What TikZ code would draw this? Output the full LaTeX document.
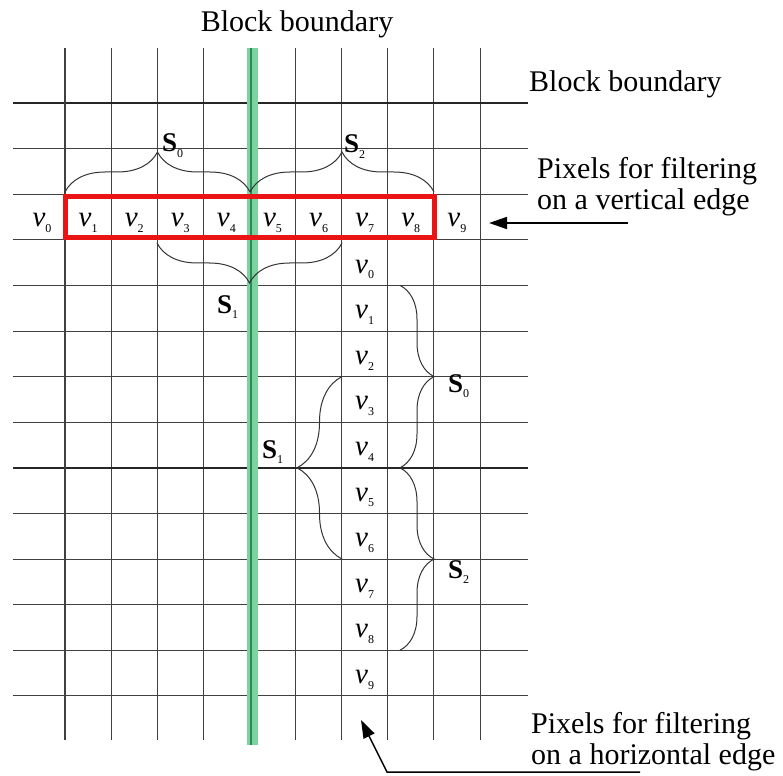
\documentclass[tikz,border=0pt]{standalone}
\usepackage{fontspec}
\setmainfont{Liberation Serif}
\usetikzlibrary{decorations.pathreplacing,arrows.meta}
\definecolor{bandgreen}{RGB}{125,210,160}
\definecolor{darkgreen}{RGB}{40,140,85}
\definecolor{boxred}{RGB}{235,20,20}
\newcommand{\pixlab}[1]{\textit{v}\raisebox{-0.45ex}{\fontsize{12}{12}\selectfont #1}}
\newcommand{\setlab}[1]{\textbf{S}\raisebox{-0.45ex}{\fontsize{12}{12}\selectfont #1}}
\tikzset{
  gridline/.style={black!75,line width=0.8pt},
  blockline/.style={black!85,line width=2pt},
  setbrace/.style={decorate,decoration={brace,amplitude=#1},black!80,line width=1pt},
  pixel/.style={anchor=base,inner sep=0pt,font=\fontsize{29}{29}\selectfont},
  setname/.style={anchor=base west,inner sep=0pt,font=\fontsize{27}{27}\selectfont},
  caption/.style={anchor=west,align=left,inner sep=0pt,font=\fontsize{30}{31}\selectfont},
  pointer/.style={black,line width=1.5pt,-{Triangle[length=18pt,width=12pt]}}
}
\begin{document}
\begin{tikzpicture}[x=1pt,y=-1pt]
\useasboundingbox (0,0) rectangle (783,775);
\foreach \i in {0,...,9} \draw[gridline] (65+46.1*\i,48) -- (65+46.1*\i,740);
\foreach \j in {0,...,13} \draw[gridline] (13,103+45.6*\j) -- (528,103+45.6*\j);
\draw[blockline] (13,103) -- (528,103);
\draw[blockline] (13,467.8) -- (528,467.8);
\draw[gridline,line width=1.4pt] (65,48) -- (65,740);
\fill[bandgreen] (247,48) rectangle (258,745);
\draw[darkgreen,line width=1.5pt] (251,48) -- (251,745);
\draw[boxred,line width=5pt] (65.5,197) rectangle (434,238);
\draw[setbrace=40pt] (65,192) -- (250,192);
\draw[setbrace=40pt] (250,192) -- (434,192);
\draw[setbrace=40pt] (342,243) -- (157,243);
\draw[setbrace=34pt] (400,285.4) -- (400,467.8);
\draw[setbrace=34pt] (400,467.8) -- (400,650.2);
\draw[setbrace=45pt] (342,559) -- (342,376.6);
\foreach \i in {0,...,9} \node[pixel] (r\i) at (42+46.1*\i,227) {\pixlab{\i}};
\foreach \i in {0,...,9} \node[pixel] (c\i) at (364.6,273+45.6*\i) {\pixlab{\i}};
\node[setname] (s0top) at (162,152) {\setlab{0}};
\node[setname] (s2top) at (344,153) {\setlab{2}};
\node[setname] (s1low) at (217,313) {\setlab{1}};
\node[setname] (s0right) at (448,392) {\setlab{0}};
\node[setname] (s2right) at (448,578) {\setlab{2}};
\node[setname] (s1left) at (262,458) {\setlab{1}};
\node[caption,anchor=center] (topbound) at (297,24) {Block boundary};
\node[caption] (rightbound) at (529,84) {Block boundary};
\node[caption] (vertcap) at (537,187) {Pixels for filtering\\on a vertical edge};
\node[caption] (horcap) at (531,742) {Pixels for filtering\\on a horizontal edge};
\coordinate (vtail) at (628,223);
\coordinate (vtip) at (489,223);
\coordinate (htail) at (640,772);
\coordinate (hbend) at (387,772);
\coordinate (htip) at (361,720);
\draw[pointer] (vtail) -- (vtip);
\draw[pointer] (htail) -- (hbend) -- (htip);
\end{tikzpicture}
\end{document}
